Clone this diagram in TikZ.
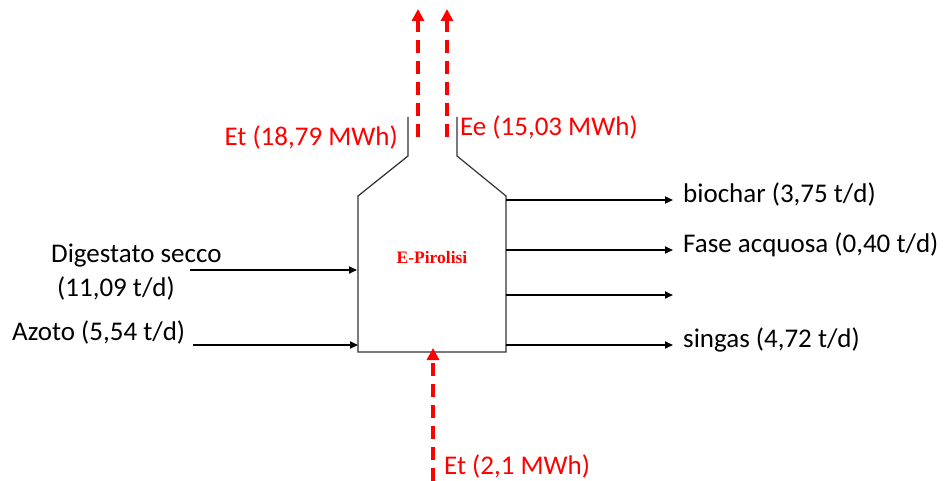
\documentclass[tikz,border=0pt]{standalone}
\usepackage{fontspec}
\setmainfont{Carlito}
\newfontfamily\serifb{Liberation Serif}
\usetikzlibrary{arrows.meta}
\definecolor{redE}{RGB}{255,0,0}
\begin{document}
\begin{tikzpicture}[x=1pt,y=-1pt,
  lbl/.style={font=\fontsize{27}{32}\selectfont, inner sep=0pt},
  rlbl/.style={lbl, text=redE},
  flow/.style={draw=black, line width=1.7pt, -{Triangle[length=8pt,width=7pt]}},
  eflow/.style={draw=redE, line width=3.5pt, dash pattern=on 13pt off 8pt, -{Triangle[length=12pt,width=12pt]}},
  wall/.style={draw=black!80, line width=1.2pt}]
\useasboundingbox (0,0) rectangle (944,481);
% reactor outline
\draw[wall] (408,117) -- (408,156) -- (358,196) -- (358,352) -- (506,352) -- (506,196) -- (457,156) -- (457,117);
\coordinate (inD) at (357,270);
\coordinate (inA) at (358,345);
\coordinate (srcD) at (190,270);
\coordinate (srcA) at (193,345);
\node[font=\serifb\bfseries\fontsize{17.5}{20}\selectfont, text=redE] (reac) at (432,258) {E-Pirolisi};
% inputs
\node[lbl, anchor=west] (dig) at (51,256) {Digestato secco};
\node[lbl, anchor=west] (dig2) at (57,288) {(11,09 t/d)};
\node[lbl, anchor=west] (azo) at (12,332) {Azoto (5,54 t/d)};
\draw[flow] (srcD) -- (inD);
\draw[flow] (srcA) -- (inA);
% outputs
\coordinate (o1) at (506,200); \coordinate (e1) at (673,200);
\coordinate (o2) at (506,250); \coordinate (e2) at (673,250);
\coordinate (o3) at (506,295); \coordinate (e3) at (673,295);
\coordinate (o4) at (506,345); \coordinate (e4) at (673,345);
\draw[flow] (o1) -- (e1);
\draw[flow] (o2) -- (e2);
\draw[flow] (o3) -- (e3);
\draw[flow] (o4) -- (e4);
\node[lbl, anchor=west] (bio) at (683,194) {biochar (3,75 t/d)};
\node[lbl, anchor=west] (fase) at (683,245) {Fase acquosa (0,40 t/d)};
\node[lbl, anchor=west] (sin) at (683,340) {singas (4,72 t/d)};
% energy
\coordinate (t1s) at (418,137); \coordinate (t1e) at (418,9);
\coordinate (t2s) at (447,137); \coordinate (t2e) at (447,9);
\coordinate (bs) at (433,481); \coordinate (be) at (433,348);
\draw[eflow] (t1s) -- (t1e);
\draw[eflow] (t2s) -- (t2e);
\draw[eflow] (bs) -- (be);
\node[rlbl, anchor=east] (et1) at (398,137) {Et (18,79 MWh)};
\node[rlbl, anchor=west] (ee) at (460,127) {Ee (15,03 MWh)};
\node[rlbl, anchor=west] (et2) at (444,466) {Et (2,1 MWh)};
\end{tikzpicture}
\end{document}
